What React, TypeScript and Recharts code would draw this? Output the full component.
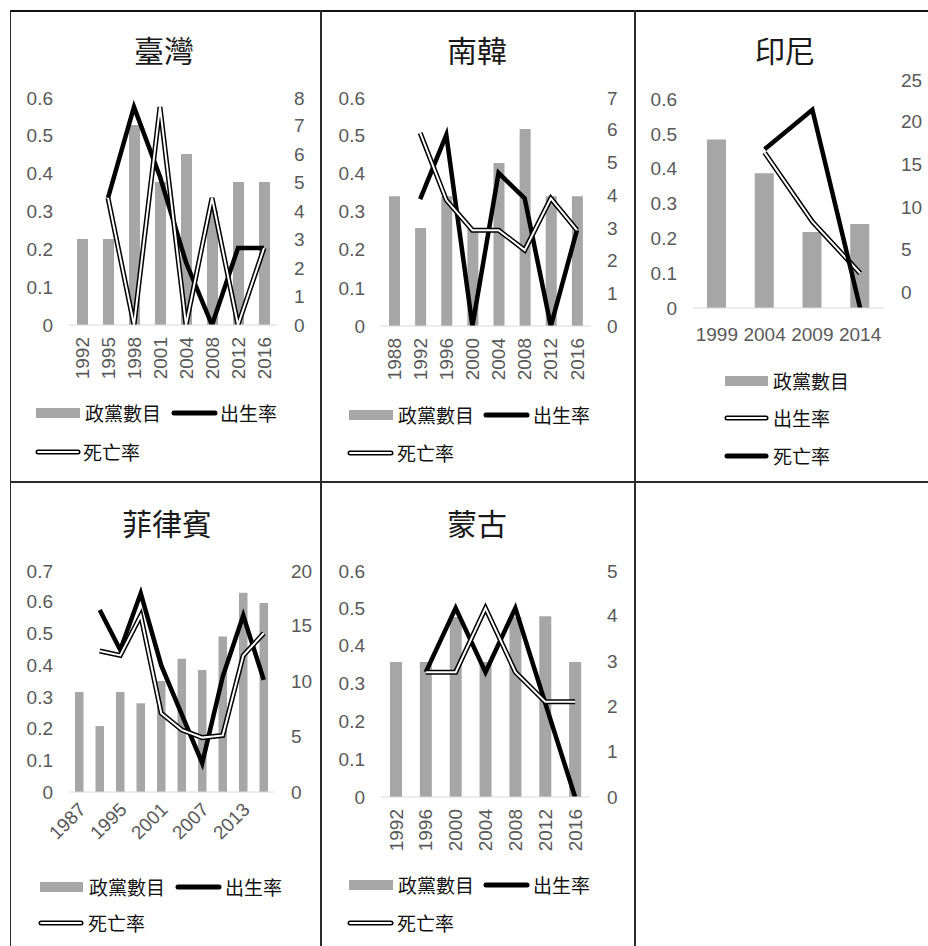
import React from 'react';
import { ComposedChart, Bar, Line, XAxis, YAxis } from 'recharts';

// ---- 臺灣 ----
const twYears = ['1992', '1995', '1998', '2001', '2004', '2008', '2012', '2016'];
const twParties = [0.226, 0.226, 0.526, 0.376, 0.45, 0.3, 0.376, 0.376];
const twBirth = [null, 4.46, 7.65, 5.2, 2.2, 0, 2.7, 2.7];
const twDeath = [null, 4.46, 0, 7.65, 0, 4.46, 0, 2.7];

// ---- 南韓 ----
const krYears = ['1988', '1992', '1996', '2000', '2004', '2008', '2012', '2016'];
const krParties = [0.34, 0.257, 0.34, 0.257, 0.427, 0.516, 0.34, 0.34];
const krBirth = [null, 3.88, 5.84, 0, 4.68, 3.9, 0, 2.93];
const krDeath = [null, 5.9, 3.85, 2.93, 2.93, 2.32, 3.9, 2.93];

// ---- 印尼 ----
const idYears = ['1999', '2004', '2009', '2014'];
const idParties = [0.484, 0.387, 0.218, 0.241];
const idBirth = [null, 16.35, 8.25, 2.2];
const idDeath = [null, 16.75, 21.4, -1.88];

// ---- 菲律賓 ----
const phYears = ['1987', '1992', '1995', '1998', '2001', '2004', '2007', '2010', '2013', '2016'];
const phParties = [0.315, 0.208, 0.315, 0.28, 0.35, 0.42, 0.385, 0.49, 0.628, 0.596];
const phBirth = [null, 16.4, 12.8, 17.9, 11.4, 7.0, 2.6, 10.4, 15.9, 10.1];
const phDeath = [null, 12.7, 12.3, 15.9, 7.1, 5.6, 4.9, 5.1, 12.3, 14.3];

// ---- 蒙古 ----
const mnYears = ['1992', '1996', '2000', '2004', '2008', '2012', '2016'];
const mnParties = [0.357, 0.357, 0.476, 0.357, 0.476, 0.478, 0.357];
const mnBirth = [null, 2.75, 4.16, 2.75, 4.16, 2.07, 0];
const mnDeath = [null, 2.75, 2.75, 4.16, 2.75, 2.1, 2.1];

// ---- axis ticks ----
const leftTicks6 = [0, 0.1, 0.2, 0.3, 0.4, 0.5, 0.6];
const leftTicks7 = [0, 0.1, 0.2, 0.3, 0.4, 0.5, 0.6, 0.7];
const twRightTicks = [0, 1, 2, 3, 4, 5, 6, 7, 8];
const krRightTicks = [0, 1, 2, 3, 4, 5, 6, 7];
const idRightTicks = [0, 5, 10, 15, 20, 25];
const phRightTicks = [0, 5, 10, 15, 20];
const mnRightTicks = [0, 1, 2, 3, 4, 5];

const LBL_PARTIES = '政黨數目';
const LBL_BIRTH = '出生率';
const LBL_DEATH = '死亡率';

const NUM_FONT = '"Liberation Sans", Arial, sans-serif';
const CJK_FONT = '"Noto Sans CJK TC", "Noto Sans CJK SC", sans-serif';
const AXIS_GRAY = '#595959';
const BAR_GRAY = '#a6a6a6';
const NUM_SIZE = 19;

type Kind = 'bar' | 'thick' | 'double';
type LegendItem = { kind: Kind; label: string; x: number; w: number; tx: number; y: number };

type PanelCfg = {
  title: string;
  cx: number;
  cy: number;
  years: string[];
  parties: number[];
  birth: (number | null)[];
  death: (number | null)[];
  birthStyle: Kind;
  deathStyle: Kind;
  plot: { l: number; r: number; t: number; b: number };
  leftDomain: [number, number];
  leftTicks: number[];
  rightDomain: [number, number];
  rightTicks: number[];
  tickMode: 'v' | 'h' | 'd';
  interval: number;
  barSize: number;
  legend: LegendItem[];
};

const panels: PanelCfg[] = [
  {
    title: '臺灣', cx: 164, cy: 50,
    years: twYears, parties: twParties, birth: twBirth, death: twDeath,
    birthStyle: 'thick', deathStyle: 'double',
    plot: { l: 69, r: 277, t: 97, b: 325 },
    leftDomain: [0, 0.6], leftTicks: leftTicks6,
    rightDomain: [0, 8], rightTicks: twRightTicks,
    tickMode: 'v', interval: 0, barSize: 11,
    legend: [
      { kind: 'bar', label: LBL_PARTIES, x: 36, w: 44, tx: 85, y: 413 },
      { kind: 'thick', label: LBL_BIRTH, x: 171, w: 47, tx: 220, y: 413 },
      { kind: 'double', label: LBL_DEATH, x: 35, w: 46, tx: 83, y: 452 },
    ],
  },
  {
    title: '南韓', cx: 477, cy: 50,
    years: krYears, parties: krParties, birth: krBirth, death: krDeath,
    birthStyle: 'thick', deathStyle: 'double',
    plot: { l: 381, r: 590, t: 97, b: 326 },
    leftDomain: [0, 0.6], leftTicks: leftTicks6,
    rightDomain: [0, 7], rightTicks: krRightTicks,
    tickMode: 'v', interval: 0, barSize: 11,
    legend: [
      { kind: 'bar', label: LBL_PARTIES, x: 349, w: 44, tx: 398, y: 415 },
      { kind: 'thick', label: LBL_BIRTH, x: 483, w: 47, tx: 533, y: 415 },
      { kind: 'double', label: LBL_DEATH, x: 347, w: 47, tx: 397, y: 453 },
    ],
  },
  {
    title: '印尼', cx: 785, cy: 50,
    years: idYears, parties: idParties, birth: idBirth, death: idDeath,
    birthStyle: 'double', deathStyle: 'thick',
    plot: { l: 693, r: 884, t: 79, b: 308 },
    leftDomain: [0, 0.6574], leftTicks: leftTicks6,
    rightDomain: [-1.88, 25], rightTicks: idRightTicks,
    tickMode: 'h', interval: 0, barSize: 19,
    legend: [
      { kind: 'bar', label: LBL_PARTIES, x: 725, w: 43, tx: 773, y: 381 },
      { kind: 'double', label: LBL_BIRTH, x: 724, w: 45, tx: 773, y: 418 },
      { kind: 'thick', label: LBL_DEATH, x: 724, w: 45, tx: 773, y: 456 },
    ],
  },
  {
    title: '菲律賓', cx: 167, cy: 523,
    years: phYears, parties: phParties, birth: phBirth, death: phDeath,
    birthStyle: 'thick', deathStyle: 'double',
    plot: { l: 69, r: 274, t: 570, b: 792 },
    leftDomain: [0, 0.7], leftTicks: leftTicks7,
    rightDomain: [0, 20], rightTicks: phRightTicks,
    tickMode: 'd', interval: 1, barSize: 8.5,
    legend: [
      { kind: 'bar', label: LBL_PARTIES, x: 40, w: 43, tx: 89, y: 887 },
      { kind: 'thick', label: LBL_BIRTH, x: 175, w: 47, tx: 225, y: 887 },
      { kind: 'double', label: LBL_DEATH, x: 38, w: 46, tx: 88, y: 923 },
    ],
  },
  {
    title: '蒙古', cx: 477, cy: 523,
    years: mnYears, parties: mnParties, birth: mnBirth, death: mnDeath,
    birthStyle: 'thick', deathStyle: 'double',
    plot: { l: 381, r: 590, t: 570, b: 797 },
    leftDomain: [0, 0.6], leftTicks: leftTicks6,
    rightDomain: [0, 5], rightTicks: mnRightTicks,
    tickMode: 'v', interval: 0, barSize: 12,
    legend: [
      { kind: 'bar', label: LBL_PARTIES, x: 349, w: 44, tx: 398, y: 885 },
      { kind: 'thick', label: LBL_BIRTH, x: 483, w: 47, tx: 533, y: 885 },
      { kind: 'double', label: LBL_DEATH, x: 347, w: 47, tx: 397, y: 923 },
    ],
  },
];

function YearTick(props: any) {
  const { x, y, payload, mode } = props;
  const common = { fill: AXIS_GRAY, fontSize: NUM_SIZE, fontFamily: NUM_FONT };
  if (mode === 'v') {
    return (
      <g transform={`translate(${x},${y + 12})`}>
        <text transform="rotate(-90)" textAnchor="end" dy="0.35em" {...common}>
          {payload.value}
        </text>
      </g>
    );
  }
  if (mode === 'd') {
    return (
      <g transform={`translate(${x + 3},${y + 14})`}>
        <text transform="rotate(-45)" textAnchor="end" dy="0.35em" {...common}>
          {payload.value}
        </text>
      </g>
    );
  }
  return (
    <text x={x} y={y + 20} dy="0.71em" textAnchor="middle" {...common}>
      {payload.value}
    </text>
  );
}

function seriesLines(key: string, style: Kind) {
  if (style === 'thick') {
    return [
      <Line key={key} yAxisId="right" dataKey={key} stroke="#000" strokeWidth={4.5}
        dot={false} activeDot={false} legendType="none" isAnimationActive={false} />,
    ];
  }
  return [
    <Line key={key + '-o'} yAxisId="right" dataKey={key} stroke="#000" strokeWidth={5}
      dot={false} activeDot={false} legendType="none" isAnimationActive={false} />,
    <Line key={key + '-i'} yAxisId="right" dataKey={key} stroke="#fff" strokeWidth={2}
      dot={false} activeDot={false} legendType="none" isAnimationActive={false} />,
  ];
}

function LegendIcon({ kind, w }: { kind: Kind; w: number }) {
  if (kind === 'bar') {
    return <div style={{ width: w, height: 10, background: BAR_GRAY }} />;
  }
  return (
    <svg width={w} height={10} style={{ display: 'block' }}>
      <line x1={3} y1={5} x2={w - 3} y2={5} stroke="#000" strokeWidth={5} strokeLinecap="round" />
      {kind === 'double' && (
        <line x1={3} y1={5} x2={w - 3} y2={5} stroke="#fff" strokeWidth={1.8} strokeLinecap="round" />
      )}
    </svg>
  );
}

function Panel({ cfg }: { cfg: PanelCfg }) {
  const { plot } = cfg;
  const leftW = 60;
  const rightW = 50;
  const topM = 10;
  const xH = 70;
  const width = plot.r - plot.l + leftW + rightW;
  const height = plot.b - plot.t + topM + xH;
  const rows = cfg.years.map((year, i) => ({
    year,
    parties: cfg.parties[i],
    birth: cfg.birth[i],
    death: cfg.death[i],
  }));
  const yTick = { fill: AXIS_GRAY, fontSize: NUM_SIZE, fontFamily: NUM_FONT };

  return (
    <>
      <div
        style={{
          position: 'absolute', left: cfg.cx - 120, top: cfg.cy - 21, width: 240, height: 40,
          lineHeight: '40px', textAlign: 'center', fontFamily: CJK_FONT, fontSize: 30, color: '#1a1a1a',
        }}
      >
        {cfg.title}
      </div>
      <div style={{ position: 'absolute', left: plot.l - leftW, top: plot.t - topM }}>
        <ComposedChart width={width} height={height} data={rows}
          margin={{ top: topM, right: 0, bottom: 0, left: 0 }}>
          <XAxis dataKey="year" height={xH} interval={cfg.interval}
            axisLine={{ stroke: '#d9d9d9', strokeWidth: 1 }} tickLine={false} tickSize={0} tickMargin={0}
            tick={(p: any) => <YearTick {...p} mode={cfg.tickMode} />} />
          <YAxis yAxisId="left" orientation="left" width={leftW} domain={cfg.leftDomain}
            ticks={cfg.leftTicks} axisLine={false} tickLine={false} tickSize={0} tickMargin={16}
            tick={yTick} allowDataOverflow />
          <YAxis yAxisId="right" orientation="right" width={rightW} domain={cfg.rightDomain}
            ticks={cfg.rightTicks} axisLine={false} tickLine={false} tickSize={0} tickMargin={17}
            tick={yTick} allowDataOverflow />
          <Bar yAxisId="left" dataKey="parties" fill={BAR_GRAY} barSize={cfg.barSize}
            isAnimationActive={false} />
          {seriesLines('birth', cfg.birthStyle)}
          {seriesLines('death', cfg.deathStyle)}
        </ComposedChart>
      </div>
      {cfg.legend.map((it, i) => (
        <React.Fragment key={i}>
          <div style={{ position: 'absolute', left: it.x, top: it.y - 5 }}>
            <LegendIcon kind={it.kind} w={it.w} />
          </div>
          <div
            style={{
              position: 'absolute', left: it.tx, top: it.y - 14, height: 28, lineHeight: '28px',
              fontFamily: CJK_FONT, fontSize: 19, color: '#111', whiteSpace: 'nowrap',
            }}
          >
            {it.label}
          </div>
        </React.Fragment>
      ))}
    </>
  );
}

const BORDER = '#2b2b2b';

export default function App() {
  return (
    <div
      style={{
        position: 'absolute', left: 0, top: 0, width: 928, height: 946, overflow: 'hidden',
        background: '#fff',
      }}
    >
      {/* table grid */}
      <div style={{ position: 'absolute', left: 10, top: 10, width: 918, height: 2, background: '#111' }} />
      <div style={{ position: 'absolute', left: 10, top: 481, width: 918, height: 2, background: BORDER }} />
      <div style={{ position: 'absolute', left: 9.5, top: 10, width: 1.5, height: 936, background: BORDER }} />
      <div style={{ position: 'absolute', left: 320, top: 10, width: 2, height: 936, background: BORDER }} />
      <div style={{ position: 'absolute', left: 633.5, top: 10, width: 2, height: 936, background: BORDER }} />
      {panels.map((p) => (
        <Panel key={p.title} cfg={p} />
      ))}
    </div>
  );
}
